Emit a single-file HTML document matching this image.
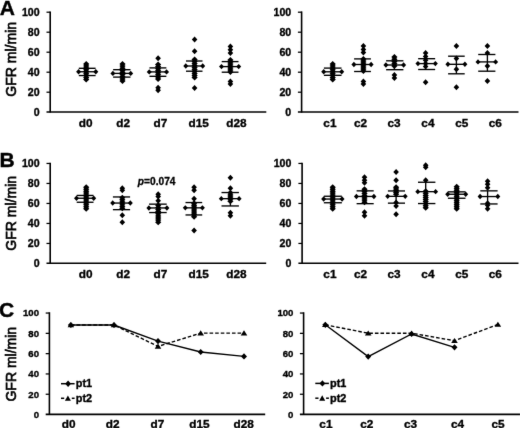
<!DOCTYPE html>
<html><head><meta charset="utf-8"><style>
html,body{margin:0;padding:0;background:#fff;}
body{width:520px;height:428px;overflow:hidden;}
svg{display:block;}
text{font-family:"Liberation Sans", sans-serif;fill:#000;}
.tk{font-weight:bold;text-anchor:end;stroke:#000;stroke-width:0.35px;}
.xl{font-size:11.8px;font-weight:bold;text-anchor:middle;stroke:#000;stroke-width:0.35px;}
.pl{font-size:21px;font-weight:bold;stroke:#000;stroke-width:0.4px;}
.yt{font-size:14px;stroke:#000;stroke-width:0.65px;text-anchor:middle;}
.pv{font-size:10.2px;font-weight:bold;stroke:#000;stroke-width:0.3px;}
.lg{font-size:10.9px;font-weight:bold;stroke:#000;stroke-width:0.35px;}
</style></head><body>
<svg width="520" height="428" viewBox="0 0 520 428">
<defs><filter id="bl" x="0" y="0" width="520" height="428" filterUnits="userSpaceOnUse"><feConvolveMatrix order="3" kernelMatrix="0.0052 0.0619 0.0052 0.0619 0.7314 0.0619 0.0052 0.0619 0.0052" edgeMode="none" preserveAlpha="false"/></filter></defs>
<rect width="520" height="428" fill="#fff"/>
<g filter="url(#bl)">
<text x="-0.3" y="14.8" class="pl">A</text>
<text x="-0.6" y="166.7" class="pl">B</text>
<text x="-0.9" y="317.2" class="pl">C</text>
<text transform="translate(15.6 59.3) rotate(-90)" class="yt">GFR ml/min</text>
<text transform="translate(15.6 213.3) rotate(-90)" class="yt">GFR ml/min</text>
<text transform="translate(15.6 364.2) rotate(-90)" class="yt">GFR ml/min</text>
<line x1="50.2" y1="11.4" x2="50.2" y2="112.6" stroke="#000" stroke-width="1.6"/>
<line x1="46.5" y1="112" x2="266.3" y2="112" stroke="#000" stroke-width="1.6"/>
<line x1="46.5" y1="92.2" x2="50.2" y2="92.2" stroke="#000" stroke-width="1.25"/>
<line x1="46.5" y1="72.2" x2="50.2" y2="72.2" stroke="#000" stroke-width="1.25"/>
<line x1="46.5" y1="52.2" x2="50.2" y2="52.2" stroke="#000" stroke-width="1.25"/>
<line x1="46.5" y1="32.2" x2="50.2" y2="32.2" stroke="#000" stroke-width="1.25"/>
<line x1="46.5" y1="12.2" x2="50.2" y2="12.2" stroke="#000" stroke-width="1.25"/>
<text x="39.6" y="115.82" class="tk" font-size="10.6">0</text>
<text x="39.6" y="95.82" class="tk" font-size="10.6">20</text>
<text x="39.6" y="75.82" class="tk" font-size="10.6">40</text>
<text x="39.6" y="55.82" class="tk" font-size="10.6">60</text>
<text x="39.6" y="35.82" class="tk" font-size="10.6">80</text>
<text x="39.6" y="15.82" class="tk" font-size="10.6">100</text>
<line x1="301.6" y1="11.4" x2="301.6" y2="112.6" stroke="#000" stroke-width="1.6"/>
<line x1="297.9" y1="112" x2="518.5" y2="112" stroke="#000" stroke-width="1.6"/>
<line x1="297.9" y1="92.2" x2="301.6" y2="92.2" stroke="#000" stroke-width="1.25"/>
<line x1="297.9" y1="72.2" x2="301.6" y2="72.2" stroke="#000" stroke-width="1.25"/>
<line x1="297.9" y1="52.2" x2="301.6" y2="52.2" stroke="#000" stroke-width="1.25"/>
<line x1="297.9" y1="32.2" x2="301.6" y2="32.2" stroke="#000" stroke-width="1.25"/>
<line x1="297.9" y1="12.2" x2="301.6" y2="12.2" stroke="#000" stroke-width="1.25"/>
<text x="291.2" y="115.82" class="tk" font-size="10.6">0</text>
<text x="291.2" y="95.82" class="tk" font-size="10.6">20</text>
<text x="291.2" y="75.82" class="tk" font-size="10.6">40</text>
<text x="291.2" y="55.82" class="tk" font-size="10.6">60</text>
<text x="291.2" y="35.82" class="tk" font-size="10.6">80</text>
<text x="291.2" y="15.82" class="tk" font-size="10.6">100</text>
<line x1="78.8" y1="68.3" x2="95.6" y2="68.3" stroke="#000" stroke-width="1.35"/>
<line x1="78.8" y1="71.75" x2="95.6" y2="71.75" stroke="#000" stroke-width="1.35"/>
<line x1="78.8" y1="75.55" x2="95.6" y2="75.55" stroke="#000" stroke-width="1.35"/>
<line x1="86.2" y1="68.3" x2="86.2" y2="75.55" stroke="#000" stroke-width="1.35"/>
<path d="M86.2 76.6L89.3 79.5L86.2 82.4L83.1 79.5ZM86.2 74.66L89.3 77.56L86.2 80.46L83.1 77.56ZM86.2 72.72L89.3 75.62L86.2 78.53L83.1 75.62ZM86.2 70.79L89.3 73.69L86.2 76.59L83.1 73.69ZM86.2 68.85L89.3 71.75L86.2 74.65L83.1 71.75ZM86.2 66.91L89.3 69.81L86.2 72.71L83.1 69.81ZM86.2 64.97L89.3 67.88L86.2 70.78L83.1 67.88ZM86.2 63.04L89.3 65.94L86.2 68.84L83.1 65.94ZM86.2 61.1L89.3 64L86.2 66.9L83.1 64ZM78.6 69.05L81.1 71.75L78.6 74.45L76.1 71.75ZM95.8 69.05L98.3 71.75L95.8 74.45L93.3 71.75Z" fill="#000"/>
<line x1="113.1" y1="69.7" x2="130.5" y2="69.7" stroke="#000" stroke-width="1.35"/>
<line x1="113.1" y1="73.4" x2="130.5" y2="73.4" stroke="#000" stroke-width="1.35"/>
<line x1="113.1" y1="77.1" x2="130.5" y2="77.1" stroke="#000" stroke-width="1.35"/>
<line x1="122.5" y1="69.7" x2="122.5" y2="77.1" stroke="#000" stroke-width="1.35"/>
<path d="M122.5 78.1L125.6 81L122.5 83.9L119.4 81ZM122.5 75.97L125.6 78.88L122.5 81.78L119.4 78.88ZM122.5 73.85L125.6 76.75L122.5 79.65L119.4 76.75ZM122.5 71.72L125.6 74.62L122.5 77.53L119.4 74.62ZM122.5 69.6L125.6 72.5L122.5 75.4L119.4 72.5ZM122.5 67.47L125.6 70.38L122.5 73.28L119.4 70.38ZM122.5 65.35L125.6 68.25L122.5 71.15L119.4 68.25ZM122.5 63.23L125.6 66.12L122.5 69.03L119.4 66.12ZM122.5 61.1L125.6 64L122.5 66.9L119.4 64ZM112.9 70.7L115.4 73.4L112.9 76.1L110.4 73.4ZM130.7 70.7L133.2 73.4L130.7 76.1L128.2 73.4Z" fill="#000"/>
<line x1="149.45" y1="67.9" x2="166.35" y2="67.9" stroke="#000" stroke-width="1.35"/>
<line x1="149.45" y1="71.9" x2="166.35" y2="71.9" stroke="#000" stroke-width="1.35"/>
<line x1="149.45" y1="76.3" x2="166.35" y2="76.3" stroke="#000" stroke-width="1.35"/>
<line x1="158.1" y1="67.9" x2="158.1" y2="76.3" stroke="#000" stroke-width="1.35"/>
<path d="M158.1 55.2L160.9 58.2L158.1 61.2L155.3 58.2ZM158.1 76.1L161.2 79L158.1 81.9L155 79ZM158.1 74.03L161.2 76.93L158.1 79.83L155 76.93ZM158.1 71.96L161.2 74.86L158.1 77.76L155 74.86ZM158.1 69.89L161.2 72.79L158.1 75.69L155 72.79ZM158.1 67.81L161.2 70.71L158.1 73.61L155 70.71ZM158.1 65.74L161.2 68.64L158.1 71.54L155 68.64ZM158.1 63.67L161.2 66.57L158.1 69.47L155 66.57ZM158.1 61.6L161.2 64.5L158.1 67.4L155 64.5ZM158.1 84.8L160.9 87.8L158.1 90.8L155.3 87.8ZM158.1 87.2L160.9 90.2L158.1 93.2L155.3 90.2ZM149.25 69.2L151.75 71.9L149.25 74.6L146.75 71.9ZM166.55 69.2L169.05 71.9L166.55 74.6L164.05 71.9Z" fill="#000"/>
<line x1="186" y1="61" x2="202.5" y2="61" stroke="#000" stroke-width="1.35"/>
<line x1="186" y1="66" x2="202.5" y2="66" stroke="#000" stroke-width="1.35"/>
<line x1="186" y1="71.2" x2="202.5" y2="71.2" stroke="#000" stroke-width="1.35"/>
<line x1="194.6" y1="61" x2="194.6" y2="71.2" stroke="#000" stroke-width="1.35"/>
<path d="M194.6 36.4L197.4 39.4L194.6 42.4L191.8 39.4ZM194.6 48.2L197.4 51.2L194.6 54.2L191.8 51.2ZM194.6 74.6L197.7 77.5L194.6 80.4L191.5 77.5ZM194.6 72.6L197.7 75.5L194.6 78.4L191.5 75.5ZM194.6 70.6L197.7 73.5L194.6 76.4L191.5 73.5ZM194.6 68.6L197.7 71.5L194.6 74.4L191.5 71.5ZM194.6 66.6L197.7 69.5L194.6 72.4L191.5 69.5ZM194.6 64.6L197.7 67.5L194.6 70.4L191.5 67.5ZM194.6 62.6L197.7 65.5L194.6 68.4L191.5 65.5ZM194.6 60.6L197.7 63.5L194.6 66.4L191.5 63.5ZM194.6 58.6L197.7 61.5L194.6 64.4L191.5 61.5ZM194.6 56.6L197.7 59.5L194.6 62.4L191.5 59.5ZM194.6 84.9L197.4 87.9L194.6 90.9L191.8 87.9ZM185.8 63.3L188.3 66L185.8 68.7L183.3 66ZM202.7 63.3L205.2 66L202.7 68.7L200.2 66Z" fill="#000"/>
<line x1="221.7" y1="61.6" x2="238.5" y2="61.6" stroke="#000" stroke-width="1.35"/>
<line x1="221.7" y1="66.6" x2="238.5" y2="66.6" stroke="#000" stroke-width="1.35"/>
<line x1="221.7" y1="72.2" x2="238.5" y2="72.2" stroke="#000" stroke-width="1.35"/>
<line x1="230.4" y1="61.6" x2="230.4" y2="72.2" stroke="#000" stroke-width="1.35"/>
<path d="M230.4 43.5L233.2 46.5L230.4 49.5L227.6 46.5ZM230.4 46.8L233.2 49.8L230.4 52.8L227.6 49.8ZM230.4 50L233.2 53L230.4 56L227.6 53ZM230.4 69.1L233.5 72L230.4 74.9L227.3 72ZM230.4 67.1L233.5 70L230.4 72.9L227.3 70ZM230.4 65.1L233.5 68L230.4 70.9L227.3 68ZM230.4 63.1L233.5 66L230.4 68.9L227.3 66ZM230.4 61.1L233.5 64L230.4 66.9L227.3 64ZM230.4 59.1L233.5 62L230.4 64.9L227.3 62ZM230.4 57.1L233.5 60L230.4 62.9L227.3 60ZM230.4 78.5L233.2 81.5L230.4 84.5L227.6 81.5ZM230.4 81L233.2 84L230.4 87L227.6 84ZM221.5 63.9L224 66.6L221.5 69.3L219 66.6ZM238.7 63.9L241.2 66.6L238.7 69.3L236.2 66.6Z" fill="#000"/>
<line x1="323.9" y1="68.1" x2="341.5" y2="68.1" stroke="#000" stroke-width="1.35"/>
<line x1="323.9" y1="71.8" x2="341.5" y2="71.8" stroke="#000" stroke-width="1.35"/>
<line x1="323.9" y1="75.3" x2="341.5" y2="75.3" stroke="#000" stroke-width="1.35"/>
<line x1="332.7" y1="68.1" x2="332.7" y2="75.3" stroke="#000" stroke-width="1.35"/>
<path d="M332.7 76.6L335.8 79.5L332.7 82.4L329.6 79.5ZM332.7 74.66L335.8 77.56L332.7 80.46L329.6 77.56ZM332.7 72.72L335.8 75.62L332.7 78.53L329.6 75.62ZM332.7 70.79L335.8 73.69L332.7 76.59L329.6 73.69ZM332.7 68.85L335.8 71.75L332.7 74.65L329.6 71.75ZM332.7 66.91L335.8 69.81L332.7 72.71L329.6 69.81ZM332.7 64.97L335.8 67.88L332.7 70.78L329.6 67.88ZM332.7 63.04L335.8 65.94L332.7 68.84L329.6 65.94ZM332.7 61.1L335.8 64L332.7 66.9L329.6 64ZM323.7 69.1L326.2 71.8L323.7 74.5L321.2 71.8ZM341.7 69.1L344.2 71.8L341.7 74.5L339.2 71.8Z" fill="#000"/>
<line x1="354.1" y1="58.9" x2="370.9" y2="58.9" stroke="#000" stroke-width="1.35"/>
<line x1="354.1" y1="64.5" x2="370.9" y2="64.5" stroke="#000" stroke-width="1.35"/>
<line x1="354.1" y1="71.5" x2="370.9" y2="71.5" stroke="#000" stroke-width="1.35"/>
<line x1="363.4" y1="58.9" x2="363.4" y2="71.5" stroke="#000" stroke-width="1.35"/>
<path d="M363.4 43L366.2 46L363.4 49L360.6 46ZM363.4 46.5L366.2 49.5L363.4 52.5L360.6 49.5ZM363.4 49.5L366.2 52.5L363.4 55.5L360.6 52.5ZM363.4 68.1L366.5 71L363.4 73.9L360.3 71ZM363.4 66.1L366.5 69L363.4 71.9L360.3 69ZM363.4 64.1L366.5 67L363.4 69.9L360.3 67ZM363.4 62.1L366.5 65L363.4 67.9L360.3 65ZM363.4 60.1L366.5 63L363.4 65.9L360.3 63ZM363.4 58.1L366.5 61L363.4 63.9L360.3 61ZM363.4 56.1L366.5 59L363.4 61.9L360.3 59ZM363.4 78.5L366.2 81.5L363.4 84.5L360.6 81.5ZM363.4 81L366.2 84L363.4 87L360.6 84ZM353.9 61.8L356.4 64.5L353.9 67.2L351.4 64.5ZM371.1 61.8L373.6 64.5L371.1 67.2L368.6 64.5Z" fill="#000"/>
<line x1="386.1" y1="60.8" x2="403.4" y2="60.8" stroke="#000" stroke-width="1.35"/>
<line x1="386.1" y1="65" x2="403.4" y2="65" stroke="#000" stroke-width="1.35"/>
<line x1="386.1" y1="69.7" x2="403.4" y2="69.7" stroke="#000" stroke-width="1.35"/>
<line x1="394.4" y1="60.8" x2="394.4" y2="69.7" stroke="#000" stroke-width="1.35"/>
<path d="M394.4 63.1L397.5 66L394.4 68.9L391.3 66ZM394.4 60.85L397.5 63.75L394.4 66.65L391.3 63.75ZM394.4 58.6L397.5 61.5L394.4 64.4L391.3 61.5ZM394.4 56.35L397.5 59.25L394.4 62.15L391.3 59.25ZM394.4 54.1L397.5 57L394.4 59.9L391.3 57ZM394.4 72L397.2 75L394.4 78L391.6 75ZM394.4 75L397.2 78L394.4 81L391.6 78ZM385.9 62.3L388.4 65L385.9 67.7L383.4 65ZM403.6 62.3L406.1 65L403.6 67.7L401.1 65Z" fill="#000"/>
<line x1="418.15" y1="58.7" x2="435.15" y2="58.7" stroke="#000" stroke-width="1.35"/>
<line x1="418.15" y1="63.6" x2="435.15" y2="63.6" stroke="#000" stroke-width="1.35"/>
<line x1="418.15" y1="69.5" x2="435.15" y2="69.5" stroke="#000" stroke-width="1.35"/>
<line x1="425.6" y1="58.7" x2="425.6" y2="69.5" stroke="#000" stroke-width="1.35"/>
<path d="M425.6 49.9L428.4 52.9L425.6 55.9L422.8 52.9ZM425.6 53.6L428.4 56.6L425.6 59.6L422.8 56.6ZM425.6 57.2L428.4 60.2L425.6 63.2L422.8 60.2ZM425.6 60.5L428.4 63.5L425.6 66.5L422.8 63.5ZM425.6 63.5L428.4 66.5L425.6 69.5L422.8 66.5ZM425.6 79.3L428.4 82.3L425.6 85.3L422.8 82.3ZM417.95 60.9L420.45 63.6L417.95 66.3L415.45 63.6ZM435.35 60.9L437.85 63.6L435.35 66.3L432.85 63.6Z" fill="#000"/>
<line x1="448.1" y1="56.2" x2="464.7" y2="56.2" stroke="#000" stroke-width="1.35"/>
<line x1="448.1" y1="64.3" x2="464.7" y2="64.3" stroke="#000" stroke-width="1.35"/>
<line x1="448.1" y1="73.8" x2="464.7" y2="73.8" stroke="#000" stroke-width="1.35"/>
<line x1="456.4" y1="56.2" x2="456.4" y2="73.8" stroke="#000" stroke-width="1.35"/>
<path d="M456.4 43L459.2 46L456.4 49L453.6 46ZM456.4 55.6L459.2 58.6L456.4 61.6L453.6 58.6ZM456.4 66.3L459.2 69.3L456.4 72.3L453.6 69.3ZM456.4 84.2L459.2 87.2L456.4 90.2L453.6 87.2ZM447.9 61.6L450.4 64.3L447.9 67L445.4 64.3ZM464.9 61.6L467.4 64.3L464.9 67L462.4 64.3Z" fill="#000"/>
<line x1="478.2" y1="54.5" x2="495.4" y2="54.5" stroke="#000" stroke-width="1.35"/>
<line x1="478.2" y1="61.9" x2="495.4" y2="61.9" stroke="#000" stroke-width="1.35"/>
<line x1="478.2" y1="71.2" x2="495.4" y2="71.2" stroke="#000" stroke-width="1.35"/>
<line x1="487.4" y1="54.5" x2="487.4" y2="71.2" stroke="#000" stroke-width="1.35"/>
<path d="M487.4 43L490.2 46L487.4 49L484.6 46ZM487.4 49.9L490.2 52.9L487.4 55.9L484.6 52.9ZM487.4 63L490.2 66L487.4 69L484.6 66ZM487.4 78L490.2 81L487.4 84L484.6 81ZM478 59.2L480.5 61.9L478 64.6L475.5 61.9ZM495.6 59.2L498.1 61.9L495.6 64.6L493.1 61.9Z" fill="#000"/>
<line x1="50.2" y1="162.65" x2="50.2" y2="263.85" stroke="#000" stroke-width="1.6"/>
<line x1="46.5" y1="263.25" x2="266.2" y2="263.25" stroke="#000" stroke-width="1.6"/>
<line x1="46.5" y1="243.45" x2="50.2" y2="243.45" stroke="#000" stroke-width="1.25"/>
<line x1="46.5" y1="223.45" x2="50.2" y2="223.45" stroke="#000" stroke-width="1.25"/>
<line x1="46.5" y1="203.45" x2="50.2" y2="203.45" stroke="#000" stroke-width="1.25"/>
<line x1="46.5" y1="183.45" x2="50.2" y2="183.45" stroke="#000" stroke-width="1.25"/>
<line x1="46.5" y1="163.45" x2="50.2" y2="163.45" stroke="#000" stroke-width="1.25"/>
<text x="39.6" y="267.07" class="tk" font-size="10.6">0</text>
<text x="39.6" y="247.07" class="tk" font-size="10.6">20</text>
<text x="39.6" y="227.07" class="tk" font-size="10.6">40</text>
<text x="39.6" y="207.07" class="tk" font-size="10.6">60</text>
<text x="39.6" y="187.07" class="tk" font-size="10.6">80</text>
<text x="39.6" y="167.07" class="tk" font-size="10.6">100</text>
<line x1="302.1" y1="162.65" x2="302.1" y2="263.85" stroke="#000" stroke-width="1.6"/>
<line x1="298.4" y1="263.25" x2="518.5" y2="263.25" stroke="#000" stroke-width="1.6"/>
<line x1="298.4" y1="243.45" x2="302.1" y2="243.45" stroke="#000" stroke-width="1.25"/>
<line x1="298.4" y1="223.45" x2="302.1" y2="223.45" stroke="#000" stroke-width="1.25"/>
<line x1="298.4" y1="203.45" x2="302.1" y2="203.45" stroke="#000" stroke-width="1.25"/>
<line x1="298.4" y1="183.45" x2="302.1" y2="183.45" stroke="#000" stroke-width="1.25"/>
<line x1="298.4" y1="163.45" x2="302.1" y2="163.45" stroke="#000" stroke-width="1.25"/>
<text x="291.4" y="267.07" class="tk" font-size="10.6">0</text>
<text x="291.4" y="247.07" class="tk" font-size="10.6">20</text>
<text x="291.4" y="227.07" class="tk" font-size="10.6">40</text>
<text x="291.4" y="207.07" class="tk" font-size="10.6">60</text>
<text x="291.4" y="187.07" class="tk" font-size="10.6">80</text>
<text x="291.4" y="167.07" class="tk" font-size="10.6">100</text>
<line x1="76.7" y1="195.45" x2="93.5" y2="195.45" stroke="#000" stroke-width="1.35"/>
<line x1="76.7" y1="198.25" x2="93.5" y2="198.25" stroke="#000" stroke-width="1.35"/>
<line x1="76.7" y1="202.25" x2="93.5" y2="202.25" stroke="#000" stroke-width="1.35"/>
<line x1="86.2" y1="195.45" x2="86.2" y2="202.25" stroke="#000" stroke-width="1.35"/>
<path d="M86.2 205.85L89.3 208.75L86.2 211.65L83.1 208.75ZM86.2 203.9L89.3 206.8L86.2 209.7L83.1 206.8ZM86.2 201.94L89.3 204.84L86.2 207.74L83.1 204.84ZM86.2 199.99L89.3 202.89L86.2 205.79L83.1 202.89ZM86.2 198.03L89.3 200.93L86.2 203.83L83.1 200.93ZM86.2 196.08L89.3 198.98L86.2 201.88L83.1 198.98ZM86.2 194.12L89.3 197.02L86.2 199.92L83.1 197.02ZM86.2 192.17L89.3 195.07L86.2 197.97L83.1 195.07ZM86.2 190.21L89.3 193.11L86.2 196.01L83.1 193.11ZM86.2 188.26L89.3 191.16L86.2 194.06L83.1 191.16ZM86.2 186.3L89.3 189.2L86.2 192.1L83.1 189.2ZM86.2 184.35L89.3 187.25L86.2 190.15L83.1 187.25ZM76.5 195.55L79 198.25L76.5 200.95L74 198.25ZM93.7 195.55L96.2 198.25L93.7 200.95L91.2 198.25Z" fill="#000"/>
<line x1="112.9" y1="196.95" x2="130.1" y2="196.95" stroke="#000" stroke-width="1.35"/>
<line x1="112.9" y1="203.05" x2="130.1" y2="203.05" stroke="#000" stroke-width="1.35"/>
<line x1="112.9" y1="209.65" x2="130.1" y2="209.65" stroke="#000" stroke-width="1.35"/>
<line x1="122.3" y1="196.95" x2="122.3" y2="209.65" stroke="#000" stroke-width="1.35"/>
<path d="M122.3 185.25L125.1 188.25L122.3 191.25L119.5 188.25ZM122.3 187.25L125.1 190.25L122.3 193.25L119.5 190.25ZM122.3 205.35L125.4 208.25L122.3 211.15L119.2 208.25ZM122.3 203.25L125.4 206.15L122.3 209.05L119.2 206.15ZM122.3 201.15L125.4 204.05L122.3 206.95L119.2 204.05ZM122.3 199.05L125.4 201.95L122.3 204.85L119.2 201.95ZM122.3 196.95L125.4 199.85L122.3 202.75L119.2 199.85ZM122.3 194.85L125.4 197.75L122.3 200.65L119.2 197.75ZM122.3 212.25L125.1 215.25L122.3 218.25L119.5 215.25ZM122.3 219.25L125.1 222.25L122.3 225.25L119.5 222.25ZM112.7 200.35L115.2 203.05L112.7 205.75L110.2 203.05ZM130.3 200.35L132.8 203.05L130.3 205.75L127.8 203.05Z" fill="#000"/>
<line x1="149.1" y1="204.15" x2="166.7" y2="204.15" stroke="#000" stroke-width="1.35"/>
<line x1="149.1" y1="207.95" x2="166.7" y2="207.95" stroke="#000" stroke-width="1.35"/>
<line x1="149.1" y1="212.55" x2="166.7" y2="212.55" stroke="#000" stroke-width="1.35"/>
<line x1="158.2" y1="204.15" x2="158.2" y2="212.55" stroke="#000" stroke-width="1.35"/>
<path d="M158.2 191.25L161 194.25L158.2 197.25L155.4 194.25ZM158.2 193.45L161 196.45L158.2 199.45L155.4 196.45ZM158.2 197.65L161 200.65L158.2 203.65L155.4 200.65ZM158.2 219.35L161.3 222.25L158.2 225.15L155.1 222.25ZM158.2 217.22L161.3 220.12L158.2 223.03L155.1 220.12ZM158.2 215.1L161.3 218L158.2 220.9L155.1 218ZM158.2 212.97L161.3 215.88L158.2 218.78L155.1 215.88ZM158.2 210.85L161.3 213.75L158.2 216.65L155.1 213.75ZM158.2 208.72L161.3 211.62L158.2 214.53L155.1 211.62ZM158.2 206.6L161.3 209.5L158.2 212.4L155.1 209.5ZM158.2 204.47L161.3 207.38L158.2 210.28L155.1 207.38ZM158.2 202.35L161.3 205.25L158.2 208.15L155.1 205.25ZM148.9 205.25L151.4 207.95L148.9 210.65L146.4 207.95ZM166.9 205.25L169.4 207.95L166.9 210.65L164.4 207.95Z" fill="#000"/>
<line x1="185.5" y1="202.55" x2="202.2" y2="202.55" stroke="#000" stroke-width="1.35"/>
<line x1="185.5" y1="207.85" x2="202.2" y2="207.85" stroke="#000" stroke-width="1.35"/>
<line x1="185.5" y1="214.95" x2="202.2" y2="214.95" stroke="#000" stroke-width="1.35"/>
<line x1="194.1" y1="202.55" x2="194.1" y2="214.95" stroke="#000" stroke-width="1.35"/>
<path d="M194.1 184.25L196.9 187.25L194.1 190.25L191.3 187.25ZM194.1 187.25L196.9 190.25L194.1 193.25L191.3 190.25ZM194.1 195.75L196.9 198.75L194.1 201.75L191.3 198.75ZM194.1 213.85L197.2 216.75L194.1 219.65L191 216.75ZM194.1 211.92L197.2 214.82L194.1 217.72L191 214.82ZM194.1 209.99L197.2 212.89L194.1 215.79L191 212.89ZM194.1 208.06L197.2 210.96L194.1 213.86L191 210.96ZM194.1 206.14L197.2 209.04L194.1 211.94L191 209.04ZM194.1 204.21L197.2 207.11L194.1 210.01L191 207.11ZM194.1 202.28L197.2 205.18L194.1 208.08L191 205.18ZM194.1 200.35L197.2 203.25L194.1 206.15L191 203.25ZM194.1 227.55L196.9 230.55L194.1 233.55L191.3 230.55ZM185.3 205.15L187.8 207.85L185.3 210.55L182.8 207.85ZM202.4 205.15L204.9 207.85L202.4 210.55L199.9 207.85Z" fill="#000"/>
<line x1="221.5" y1="192.55" x2="238.9" y2="192.55" stroke="#000" stroke-width="1.35"/>
<line x1="221.5" y1="198.65" x2="238.9" y2="198.65" stroke="#000" stroke-width="1.35"/>
<line x1="221.5" y1="205.95" x2="238.9" y2="205.95" stroke="#000" stroke-width="1.35"/>
<line x1="230.4" y1="192.55" x2="230.4" y2="205.95" stroke="#000" stroke-width="1.35"/>
<path d="M230.4 174.85L233.2 177.85L230.4 180.85L227.6 177.85ZM230.4 185.35L233.2 188.35L230.4 191.35L227.6 188.35ZM230.4 198.35L233.5 201.25L230.4 204.15L227.3 201.25ZM230.4 196.22L233.5 199.12L230.4 202.03L227.3 199.12ZM230.4 194.1L233.5 197L230.4 199.9L227.3 197ZM230.4 191.97L233.5 194.88L230.4 197.78L227.3 194.88ZM230.4 189.85L233.5 192.75L230.4 195.65L227.3 192.75ZM230.4 209.75L233.2 212.75L230.4 215.75L227.6 212.75ZM230.4 212.75L233.2 215.75L230.4 218.75L227.6 215.75ZM221.3 195.95L223.8 198.65L221.3 201.35L218.8 198.65ZM239.1 195.95L241.6 198.65L239.1 201.35L236.6 198.65Z" fill="#000"/>
<line x1="323.85" y1="196.25" x2="341.85" y2="196.25" stroke="#000" stroke-width="1.35"/>
<line x1="323.85" y1="199.05" x2="341.85" y2="199.05" stroke="#000" stroke-width="1.35"/>
<line x1="323.85" y1="202.75" x2="341.85" y2="202.75" stroke="#000" stroke-width="1.35"/>
<line x1="332.7" y1="196.25" x2="332.7" y2="202.75" stroke="#000" stroke-width="1.35"/>
<path d="M332.7 205.85L335.8 208.75L332.7 211.65L329.6 208.75ZM332.7 203.9L335.8 206.8L332.7 209.7L329.6 206.8ZM332.7 201.94L335.8 204.84L332.7 207.74L329.6 204.84ZM332.7 199.99L335.8 202.89L332.7 205.79L329.6 202.89ZM332.7 198.03L335.8 200.93L332.7 203.83L329.6 200.93ZM332.7 196.08L335.8 198.98L332.7 201.88L329.6 198.98ZM332.7 194.12L335.8 197.02L332.7 199.92L329.6 197.02ZM332.7 192.17L335.8 195.07L332.7 197.97L329.6 195.07ZM332.7 190.21L335.8 193.11L332.7 196.01L329.6 193.11ZM332.7 188.26L335.8 191.16L332.7 194.06L329.6 191.16ZM332.7 186.3L335.8 189.2L332.7 192.1L329.6 189.2ZM332.7 184.35L335.8 187.25L332.7 190.15L329.6 187.25ZM323.65 196.35L326.15 199.05L323.65 201.75L321.15 199.05ZM342.05 196.35L344.55 199.05L342.05 201.75L339.55 199.05Z" fill="#000"/>
<line x1="356.6" y1="190.85" x2="373.7" y2="190.85" stroke="#000" stroke-width="1.35"/>
<line x1="356.6" y1="196.45" x2="373.7" y2="196.45" stroke="#000" stroke-width="1.35"/>
<line x1="356.6" y1="203.65" x2="373.7" y2="203.65" stroke="#000" stroke-width="1.35"/>
<line x1="364.5" y1="190.85" x2="364.5" y2="203.65" stroke="#000" stroke-width="1.35"/>
<path d="M364.5 174.25L367.3 177.25L364.5 180.25L361.7 177.25ZM364.5 177.25L367.3 180.25L364.5 183.25L361.7 180.25ZM364.5 179.75L367.3 182.75L364.5 185.75L361.7 182.75ZM364.5 199.35L367.6 202.25L364.5 205.15L361.4 202.25ZM364.5 197.18L367.6 200.08L364.5 202.98L361.4 200.08ZM364.5 195.02L367.6 197.92L364.5 200.82L361.4 197.92ZM364.5 192.85L367.6 195.75L364.5 198.65L361.4 195.75ZM364.5 190.68L367.6 193.58L364.5 196.48L361.4 193.58ZM364.5 188.52L367.6 191.42L364.5 194.32L361.4 191.42ZM364.5 186.35L367.6 189.25L364.5 192.15L361.4 189.25ZM364.5 209.25L367.3 212.25L364.5 215.25L361.7 212.25ZM364.5 212.75L367.3 215.75L364.5 218.75L361.7 215.75ZM356.4 193.75L358.9 196.45L356.4 199.15L353.9 196.45ZM373.9 193.75L376.4 196.45L373.9 199.15L371.4 196.45Z" fill="#000"/>
<line x1="387.9" y1="190.95" x2="405" y2="190.95" stroke="#000" stroke-width="1.35"/>
<line x1="387.9" y1="196.35" x2="405" y2="196.35" stroke="#000" stroke-width="1.35"/>
<line x1="387.9" y1="203.15" x2="405" y2="203.15" stroke="#000" stroke-width="1.35"/>
<line x1="396.1" y1="190.95" x2="396.1" y2="203.15" stroke="#000" stroke-width="1.35"/>
<path d="M396.1 168.95L398.9 171.95L396.1 174.95L393.3 171.95ZM396.1 177.35L398.9 180.35L396.1 183.35L393.3 180.35ZM396.1 191.35L399.2 194.25L396.1 197.15L393 194.25ZM396.1 189.6L399.2 192.5L396.1 195.4L393 192.5ZM396.1 187.85L399.2 190.75L396.1 193.65L393 190.75ZM396.1 186.1L399.2 189L396.1 191.9L393 189ZM396.1 184.35L399.2 187.25L396.1 190.15L393 187.25ZM396.1 199.45L398.9 202.45L396.1 205.45L393.3 202.45ZM396.1 202.95L398.9 205.95L396.1 208.95L393.3 205.95ZM396.1 211.35L398.9 214.35L396.1 217.35L393.3 214.35ZM387.7 193.65L390.2 196.35L387.7 199.05L385.2 196.35ZM405.2 193.65L407.7 196.35L405.2 199.05L402.7 196.35Z" fill="#000"/>
<line x1="418" y1="182.25" x2="435.4" y2="182.25" stroke="#000" stroke-width="1.35"/>
<line x1="418" y1="191.65" x2="435.4" y2="191.65" stroke="#000" stroke-width="1.35"/>
<line x1="418" y1="203.55" x2="435.4" y2="203.55" stroke="#000" stroke-width="1.35"/>
<line x1="425.7" y1="182.25" x2="425.7" y2="203.55" stroke="#000" stroke-width="1.35"/>
<path d="M425.7 162.25L428.5 165.25L425.7 168.25L422.9 165.25ZM425.7 164.25L428.5 167.25L425.7 170.25L422.9 167.25ZM425.7 177.25L428.5 180.25L425.7 183.25L422.9 180.25ZM425.7 204.85L428.8 207.75L425.7 210.65L422.6 207.75ZM425.7 202.79L428.8 205.69L425.7 208.59L422.6 205.69ZM425.7 200.72L428.8 203.62L425.7 206.53L422.6 203.62ZM425.7 198.66L428.8 201.56L425.7 204.46L422.6 201.56ZM425.7 196.6L428.8 199.5L425.7 202.4L422.6 199.5ZM425.7 194.54L428.8 197.44L425.7 200.34L422.6 197.44ZM425.7 192.47L428.8 195.38L425.7 198.28L422.6 195.38ZM425.7 190.41L428.8 193.31L425.7 196.21L422.6 193.31ZM425.7 188.35L428.8 191.25L425.7 194.15L422.6 191.25ZM417.8 188.95L420.3 191.65L417.8 194.35L415.3 191.65ZM435.6 188.95L438.1 191.65L435.6 194.35L433.1 191.65Z" fill="#000"/>
<line x1="447.9" y1="191.85" x2="465.5" y2="191.85" stroke="#000" stroke-width="1.35"/>
<line x1="447.9" y1="194.25" x2="465.5" y2="194.25" stroke="#000" stroke-width="1.35"/>
<line x1="447.9" y1="198.25" x2="465.5" y2="198.25" stroke="#000" stroke-width="1.35"/>
<line x1="456.7" y1="191.85" x2="456.7" y2="198.25" stroke="#000" stroke-width="1.35"/>
<path d="M456.7 205.85L459.8 208.75L456.7 211.65L453.6 208.75ZM456.7 203.85L459.8 206.75L456.7 209.65L453.6 206.75ZM456.7 201.85L459.8 204.75L456.7 207.65L453.6 204.75ZM456.7 199.85L459.8 202.75L456.7 205.65L453.6 202.75ZM456.7 197.85L459.8 200.75L456.7 203.65L453.6 200.75ZM456.7 195.85L459.8 198.75L456.7 201.65L453.6 198.75ZM456.7 193.85L459.8 196.75L456.7 199.65L453.6 196.75ZM456.7 191.85L459.8 194.75L456.7 197.65L453.6 194.75ZM456.7 189.85L459.8 192.75L456.7 195.65L453.6 192.75ZM456.7 187.85L459.8 190.75L456.7 193.65L453.6 190.75ZM456.7 185.85L459.8 188.75L456.7 191.65L453.6 188.75ZM456.7 183.85L459.8 186.75L456.7 189.65L453.6 186.75ZM447.7 191.55L450.2 194.25L447.7 196.95L445.2 194.25ZM465.7 191.55L468.2 194.25L465.7 196.95L463.2 194.25Z" fill="#000"/>
<line x1="480.3" y1="190.85" x2="497.6" y2="190.85" stroke="#000" stroke-width="1.35"/>
<line x1="480.3" y1="196.55" x2="497.6" y2="196.55" stroke="#000" stroke-width="1.35"/>
<line x1="480.3" y1="203.95" x2="497.6" y2="203.95" stroke="#000" stroke-width="1.35"/>
<line x1="487.6" y1="190.85" x2="487.6" y2="203.95" stroke="#000" stroke-width="1.35"/>
<path d="M487.6 178.25L490.4 181.25L487.6 184.25L484.8 181.25ZM487.6 181.25L490.4 184.25L487.6 187.25L484.8 184.25ZM487.6 184.75L490.4 187.75L487.6 190.75L484.8 187.75ZM487.6 200.25L490.4 203.25L487.6 206.25L484.8 203.25ZM487.6 202.25L490.4 205.25L487.6 208.25L484.8 205.25ZM487.6 205.85L490.4 208.85L487.6 211.85L484.8 208.85ZM480.1 193.85L482.6 196.55L480.1 199.25L477.6 196.55ZM497.8 193.85L500.3 196.55L497.8 199.25L495.3 196.55Z" fill="#000"/>
<text x="137.8" y="185.4" class="pv"><tspan font-style="italic">p</tspan>=0.074</text>
<line x1="49.4" y1="312.25" x2="49.4" y2="414.95" stroke="#000" stroke-width="1.6"/>
<line x1="45.7" y1="414.35" x2="265.2" y2="414.35" stroke="#000" stroke-width="1.6"/>
<line x1="45.7" y1="394.25" x2="49.4" y2="394.25" stroke="#000" stroke-width="1.25"/>
<line x1="45.7" y1="373.95" x2="49.4" y2="373.95" stroke="#000" stroke-width="1.25"/>
<line x1="45.7" y1="353.65" x2="49.4" y2="353.65" stroke="#000" stroke-width="1.25"/>
<line x1="45.7" y1="333.35" x2="49.4" y2="333.35" stroke="#000" stroke-width="1.25"/>
<line x1="45.7" y1="313.05" x2="49.4" y2="313.05" stroke="#000" stroke-width="1.25"/>
<text x="39" y="417.81" class="tk" font-size="9.6">0</text>
<text x="39" y="397.51" class="tk" font-size="9.6">20</text>
<text x="39" y="377.21" class="tk" font-size="9.6">40</text>
<text x="39" y="356.91" class="tk" font-size="9.6">60</text>
<text x="39" y="336.61" class="tk" font-size="9.6">80</text>
<text x="39" y="316.31" class="tk" font-size="9.6">100</text>
<line x1="303.6" y1="312.25" x2="303.6" y2="414.95" stroke="#000" stroke-width="1.6"/>
<line x1="299.9" y1="414.35" x2="520.5" y2="414.35" stroke="#000" stroke-width="1.6"/>
<line x1="299.9" y1="394.25" x2="303.6" y2="394.25" stroke="#000" stroke-width="1.25"/>
<line x1="299.9" y1="373.95" x2="303.6" y2="373.95" stroke="#000" stroke-width="1.25"/>
<line x1="299.9" y1="353.65" x2="303.6" y2="353.65" stroke="#000" stroke-width="1.25"/>
<line x1="299.9" y1="333.35" x2="303.6" y2="333.35" stroke="#000" stroke-width="1.25"/>
<line x1="299.9" y1="313.05" x2="303.6" y2="313.05" stroke="#000" stroke-width="1.25"/>
<text x="293.4" y="417.81" class="tk" font-size="9.6">0</text>
<text x="293.4" y="397.51" class="tk" font-size="9.6">20</text>
<text x="293.4" y="377.21" class="tk" font-size="9.6">40</text>
<text x="293.4" y="356.91" class="tk" font-size="9.6">60</text>
<text x="293.4" y="336.61" class="tk" font-size="9.6">80</text>
<text x="293.4" y="316.31" class="tk" font-size="9.6">100</text>
<path d="M70.9 325L114 325L158 346.4L200.7 333.1L244 333.1" fill="none" stroke="#000" stroke-width="1.4" stroke-dasharray="3.6 2"/>
<path d="M70.9 322.2L74.2 327.3L67.6 327.3ZM114 322.2L117.3 327.3L110.7 327.3ZM158 343.6L161.3 348.7L154.7 348.7ZM200.7 330.3L204 335.4L197.4 335.4ZM244 330.3L247.3 335.4L240.7 335.4Z" fill="#000"/>
<path d="M70.9 325L114 325L158 341.1L200.7 352L244 356.4" fill="none" stroke="#000" stroke-width="1.4"/>
<path d="M70.9 321.9L73.9 325L70.9 328.1L67.9 325ZM114 321.9L117 325L114 328.1L111 325ZM158 338L161 341.1L158 344.2L155 341.1ZM200.7 348.9L203.7 352L200.7 355.1L197.7 352ZM244 353.3L247 356.4L244 359.5L241 356.4Z" fill="#000"/>
<path d="M325.3 324.8L368.2 333.2L411.6 333.2L454.5 340.7L497.9 324.5" fill="none" stroke="#000" stroke-width="1.4" stroke-dasharray="3.6 2"/>
<path d="M325.3 322L328.6 327.1L322 327.1ZM368.2 330.4L371.5 335.5L364.9 335.5ZM411.6 330.4L414.9 335.5L408.3 335.5ZM454.5 337.9L457.8 343L451.2 343ZM497.9 321.7L501.2 326.8L494.6 326.8Z" fill="#000"/>
<path d="M325.3 324.8L368.2 356.6L411.6 334L454.5 347.3" fill="none" stroke="#000" stroke-width="1.4"/>
<path d="M325.3 321.7L328.3 324.8L325.3 327.9L322.3 324.8ZM368.2 353.5L371.2 356.6L368.2 359.7L365.2 356.6ZM411.6 330.9L414.6 334L411.6 337.1L408.6 334ZM454.5 344.2L457.5 347.3L454.5 350.4L451.5 347.3Z" fill="#000"/>
<line x1="61" y1="383.7" x2="74.6" y2="383.7" stroke="#000" stroke-width="1.5"/>
<path d="M68.1 380.5L71 383.7L68.1 386.9L65.2 383.7Z" fill="#000"/>
<text x="75.8" y="387.1" class="lg">pt1</text>
<line x1="61" y1="398.3" x2="64.2" y2="398.3" stroke="#000" stroke-width="1.5"/>
<line x1="71.8" y1="398.3" x2="74.6" y2="398.3" stroke="#000" stroke-width="1.5"/>
<path d="M67.9 395.4L70.9 400.8L64.9 400.8Z" fill="#000"/>
<text x="75.8" y="401.7" class="lg">pt2</text>
<line x1="315.3" y1="383.4" x2="328.9" y2="383.4" stroke="#000" stroke-width="1.5"/>
<path d="M322.4 380.2L325.3 383.4L322.4 386.6L319.5 383.4Z" fill="#000"/>
<text x="330.1" y="386.8" class="lg">pt1</text>
<line x1="315.3" y1="398.2" x2="318.5" y2="398.2" stroke="#000" stroke-width="1.5"/>
<line x1="326.1" y1="398.2" x2="328.9" y2="398.2" stroke="#000" stroke-width="1.5"/>
<path d="M322.2 395.3L325.2 400.7L319.2 400.7Z" fill="#000"/>
<text x="330.1" y="401.6" class="lg">pt2</text>
<text x="85.6" y="127" class="xl">d0</text>
<text x="123.1" y="127" class="xl">d2</text>
<text x="160.5" y="127" class="xl">d7</text>
<text x="198.6" y="127" class="xl">d15</text>
<text x="236.4" y="127" class="xl">d28</text>
<text x="329.9" y="127" class="xl">c1</text>
<text x="360.6" y="127" class="xl">c2</text>
<text x="394" y="127" class="xl">c3</text>
<text x="427.9" y="127" class="xl">c4</text>
<text x="461.7" y="127" class="xl">c5</text>
<text x="495.3" y="127" class="xl">c6</text>
<text x="85.6" y="278.1" class="xl">d0</text>
<text x="123.1" y="278.1" class="xl">d2</text>
<text x="160.5" y="278.1" class="xl">d7</text>
<text x="198.6" y="278.1" class="xl">d15</text>
<text x="236.4" y="278.1" class="xl">d28</text>
<text x="329.9" y="278.1" class="xl">c1</text>
<text x="360.6" y="278.1" class="xl">c2</text>
<text x="394" y="278.1" class="xl">c3</text>
<text x="427.9" y="278.1" class="xl">c4</text>
<text x="461.7" y="278.1" class="xl">c5</text>
<text x="495.3" y="278.1" class="xl">c6</text>
<text x="68.6" y="427.8" class="xl">d0</text>
<text x="112.6" y="427.8" class="xl">d2</text>
<text x="157.4" y="427.8" class="xl">d7</text>
<text x="199.4" y="427.8" class="xl">d15</text>
<text x="243.6" y="427.8" class="xl">d28</text>
<text x="325.9" y="427.8" class="xl">c1</text>
<text x="366.7" y="427.8" class="xl">c2</text>
<text x="410.6" y="427.8" class="xl">c3</text>
<text x="457.6" y="427.8" class="xl">c4</text>
<text x="498" y="427.8" class="xl">c5</text>
</g>
</svg>
</body></html>
